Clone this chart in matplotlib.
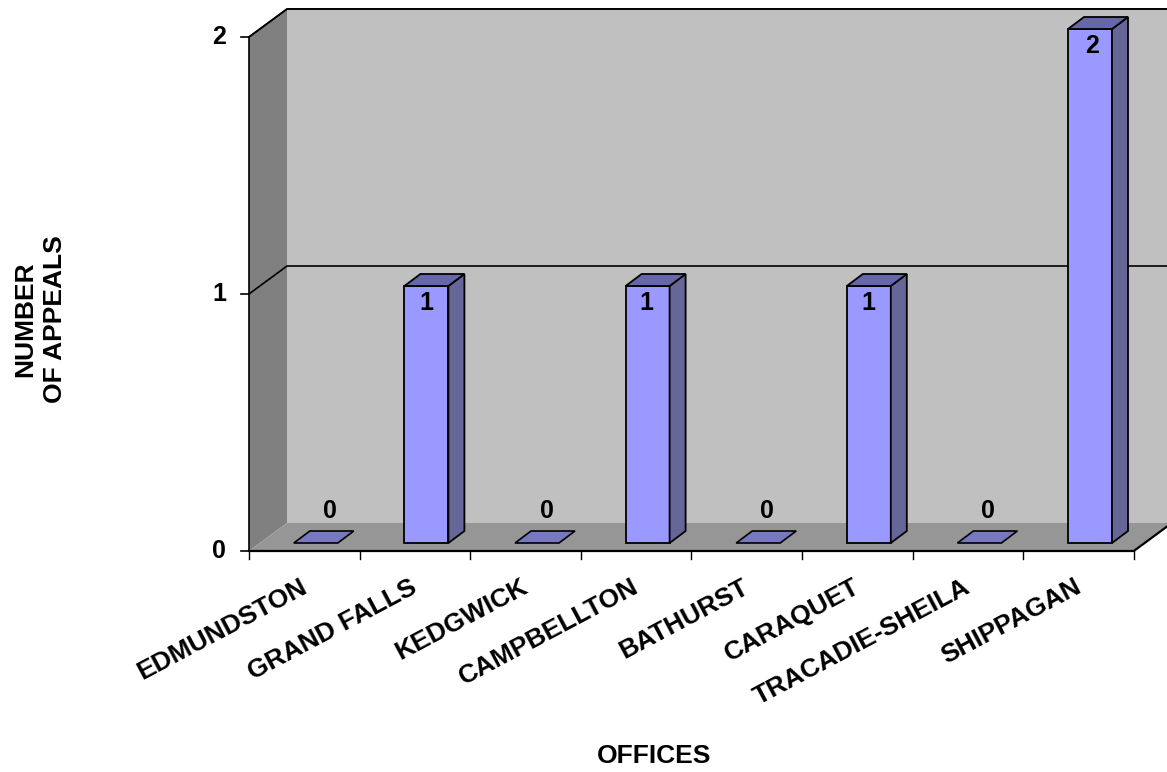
import matplotlib
matplotlib.use('Agg')
import matplotlib.pyplot as plt
from matplotlib.patches import Polygon

plt.rcParams['font.family'] = ['Liberation Sans', 'DejaVu Sans']

# Chart data
offices = ['EDMUNDSTON', 'GRAND FALLS', 'KEDGWICK', 'CAMPBELLTON',
           'BATHURST', 'CARAQUET', 'TRACADIE-SHEILA', 'SHIPPAGAN']
appeals = [0, 1, 0, 1, 0, 1, 0, 2]
y_ticks = [0, 1, 2]

# Pixel scale of the 3D box
W, H = 1167, 772
X0, Y0 = 249, 551
CAT_PX = 110.6
VAL_PX = 257.0
DX = 38 / CAT_PX      # depth of the box
DY = 28 / VAL_PX
px = 1 / CAT_PX
py = 1 / VAL_PX

fig = plt.figure(figsize=(W / 100, H / 100), dpi=100)
ax = fig.add_axes([0, 0, 1, 1])
ax.set_xlim(-X0 * px, (W - X0) * px)
ax.set_ylim(-(H - Y0) * py, Y0 * py)
ax.axis('off')

xmax = len(offices)
ymax = max(y_ticks)


def poly(points, face, edge='none', lw=0.0, z=1):
    ax.add_patch(Polygon(points, closed=True, facecolor=face, edgecolor=edge,
                         linewidth=lw, zorder=z, clip_on=True))


# Walls and floor
poly([(DX, DY), (xmax + DX, DY), (xmax + DX, ymax + DY), (DX, ymax + DY)], '#C0C0C0')
poly([(0, 0), (DX, DY), (DX, ymax + DY), (0, ymax)], '#808080')
poly([(0, 0), (xmax, 0), (xmax + DX, DY), (DX, DY)], '#969696')

# Gridline on side and back wall, box outline
for v in y_ticks[1:]:
    ax.plot([0, DX, xmax + DX], [v, v + DY, v + DY], color='black', lw=1.2, zorder=2)
ax.plot([0, 0, DX, xmax + DX], [0, ymax, ymax + DY, ymax + DY], color='black', lw=1.2, zorder=2)
ax.plot([0, xmax, xmax + DX], [0, 0, DY], color='black', lw=1.6, zorder=2)

# Ticks
for v in y_ticks:
    ax.plot([-8 * px, 0], [v, v], color='black', lw=1.2, zorder=2)
    ax.text(-30 * px, v, str(v), ha='center', va='center', fontsize=18, fontweight='bold')
for i in range(xmax + 1):
    ax.plot([i, i], [0, -8 * py], color='black', lw=1.0, zorder=2)

# Bars
bar_w = 44 * px
bar_dx = 16 * px
bar_dy = 12 * py
base = 8 * py
label_nudge = [6, 0, 2, -1, 1, 0, 1, 2]
for i, (name, v) in enumerate(zip(offices, appeals)):
    left = i + 0.5 + 11 * px - bar_w / 2 + 0.5 * px
    right = left + bar_w
    top = base + v
    if v > 0:
        poly([(left, base), (right, base), (right, top), (left, top)], '#9999FF', 'black', 1.3, 3)
        poly([(right, base), (right + bar_dx, base + bar_dy), (right + bar_dx, top + bar_dy), (right, top)],
             '#666699', 'black', 1.3, 3)
        poly([(left, top), (right, top), (right + bar_dx, top + bar_dy), (left + bar_dx, top + bar_dy)],
             '#6666AA', 'black', 1.3, 3)
        ly = top - 17 * py
    else:
        poly([(left, top), (right, top), (right + bar_dx, top + bar_dy), (left + bar_dx, top + bar_dy)],
             '#7878C0', 'black', 1.2, 3)
        ly = top + 32 * py
    ax.text((left + right) / 2 + (label_nudge[i] + (8 if v == 0 else 0)) * px, ly, str(v),
            ha='center', va='center', fontsize=18, fontweight='bold', zorder=4)

    # Category label
    ax.text(i + 0.5 - 5 * px, -24 * py, name, rotation=28, rotation_mode='anchor',
            ha='right', va='top', fontsize=19, fontweight='bold')

# Axis titles
ax.text((654 - X0) * px, (Y0 - 756) * py, 'OFFICES', ha='center', va='center',
        fontsize=19, fontweight='bold')
ax.text((40 - X0) * px, (Y0 - 319) * py, 'NUMBER\nOF APPEALS', rotation=90, ha='center',
        va='center', multialignment='center', fontsize=19, fontweight='bold', linespacing=1.3)

fig.savefig('out.png', dpi=100, facecolor='white')
plt.close(fig)
